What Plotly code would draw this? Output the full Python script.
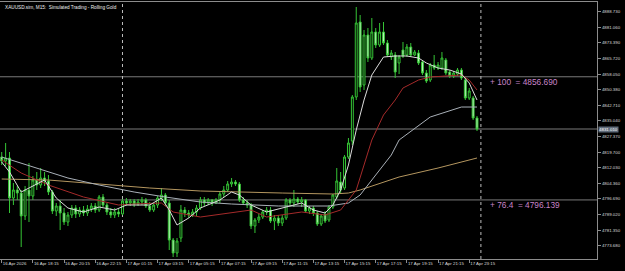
import plotly.graph_objects as go

# ---------------- data ----------------
bar_index = list(range(123))

opens = [4817.24,4815.28,4816.75,4797.08,4801.02,4799.54,4788.24,4801.02,4798.07,4805.93,
         4803.48,4806.92,4805.44,4800.04,4790.69,4793.15,4789.71,4785.29,4788.73,4792.17,
         4789.22,4791.19,4789.71,4791.68,4793.15,4791.19,4797.58,4793.64,4790.20,4788.73,
         4790.20,4789.22,4795.61,4794.63,4795.61,4794.14,4795.12,4796.10,4793.15,4791.19,
         4793.64,4797.08,4798.56,4794.63,4776.44,4770.05,4777.42,4791.19,4789.71,4788.73,
         4790.20,4792.17,4796.10,4794.63,4796.10,4794.63,4796.10,4799.05,4801.02,4803.97,
         4804.95,4803.97,4796.10,4794.63,4793.64,4783.32,4786.27,4787.74,4790.20,4791.19,
         4785.78,4787.25,4784.79,4787.25,4796.10,4794.63,4796.59,4795.12,4796.10,4790.69,
         4792.17,4789.71,4784.30,4789.22,4786.27,4792.66,4797.58,4804.95,4802.00,4817.24,
         4825.11,4846.74,4883.61,4852.64,4877.22,4865.91,4878.70,4872.31,4878.70,4873.29,
         4866.41,4867.39,4863.46,4869.85,4867.39,4871.32,4867.39,4868.37,4863.95,4858.54,
         4855.10,4862.47,4861.00,4861.00,4864.93,4859.03,4857.07,4858.05,4860.02,4855.10,
         4846.25,4846.25,4836.42]

highs = [4819.70,4824.13,4819.70,4804.46,4802.98,4801.02,4802.98,4814.29,4807.90,4809.87,
         4811.83,4809.87,4808.39,4801.02,4794.63,4796.10,4792.17,4790.20,4793.64,4793.64,
         4792.66,4793.15,4793.64,4794.63,4794.63,4798.56,4799.05,4794.63,4792.17,4792.17,
         4791.68,4796.59,4797.08,4796.59,4796.59,4796.59,4797.58,4797.08,4795.12,4794.63,
         4798.07,4802.00,4799.54,4796.10,4777.42,4777.42,4793.64,4792.66,4791.19,4791.68,
         4793.64,4797.58,4797.58,4797.08,4796.59,4797.08,4800.53,4802.98,4805.44,4806.92,
         4805.93,4804.95,4797.58,4796.10,4794.63,4787.25,4789.22,4791.19,4792.66,4792.66,
         4788.73,4788.73,4788.73,4797.08,4797.08,4801.02,4797.58,4797.58,4796.59,4793.15,
         4793.15,4790.69,4789.22,4790.69,4793.64,4799.05,4811.83,4809.87,4818.23,4826.58,
         4847.72,4890.99,4887.06,4879.68,4880.66,4885.58,4880.66,4883.12,4883.61,4874.76,
         4869.85,4868.86,4867.39,4873.78,4872.80,4873.29,4869.85,4869.85,4864.93,4860.02,
         4863.46,4867.39,4863.95,4868.86,4865.91,4860.02,4859.52,4861.00,4861.00,4856.57,
         4851.17,4847.23,4837.40]

lows = [4813.31,4812.82,4789.71,4793.64,4796.10,4772.99,4786.27,4785.29,4796.10,4801.02,
        4802.00,4802.98,4798.56,4789.22,4788.24,4781.35,4783.81,4783.32,4787.25,4787.25,
        4787.74,4788.24,4788.24,4790.20,4789.71,4790.20,4792.66,4788.73,4787.25,4787.25,
        4787.74,4788.73,4793.15,4793.15,4792.66,4793.15,4793.64,4792.17,4790.20,4790.20,
        4792.17,4795.61,4793.15,4771.52,4768.08,4768.08,4775.45,4787.74,4787.25,4787.74,
        4788.24,4791.19,4793.15,4793.64,4793.15,4794.14,4794.63,4797.58,4800.04,4802.49,
        4802.98,4795.12,4793.64,4792.17,4781.84,4779.88,4784.79,4786.76,4788.73,4784.79,
        4781.35,4783.32,4783.32,4786.27,4793.15,4792.66,4794.14,4792.66,4789.71,4789.22,
        4788.24,4783.32,4783.32,4784.79,4785.29,4791.68,4796.59,4799.54,4801.02,4816.26,
        4823.14,4845.27,4849.20,4850.18,4863.95,4864.93,4870.83,4871.32,4872.31,4866.41,
        4864.93,4856.08,4858.05,4865.91,4866.41,4866.41,4866.90,4862.47,4857.56,4853.62,
        4854.12,4860.02,4860.02,4860.02,4857.56,4856.08,4856.08,4857.07,4855.10,4845.27,
        4845.27,4835.43,4830.03]

closes = [4815.28,4816.75,4797.08,4801.02,4799.54,4788.24,4801.02,4798.07,4805.93,4803.48,
          4806.92,4805.44,4800.04,4790.69,4793.15,4789.71,4785.29,4788.73,4792.17,4789.22,
          4791.19,4789.71,4791.68,4793.15,4791.19,4797.58,4793.64,4790.20,4788.73,4790.20,
          4789.22,4795.61,4794.63,4795.61,4794.14,4795.12,4796.10,4793.15,4791.19,4793.64,
          4797.08,4798.56,4794.63,4776.44,4770.05,4775.94,4791.19,4789.71,4788.73,4790.20,
          4792.17,4796.10,4794.63,4796.10,4794.63,4796.10,4799.05,4801.02,4803.97,4804.95,
          4803.97,4796.10,4794.63,4793.64,4783.32,4786.27,4787.74,4790.20,4791.19,4785.78,
          4787.25,4784.79,4787.25,4796.10,4794.63,4796.59,4795.12,4796.10,4790.69,4792.17,
          4789.71,4784.30,4788.24,4785.78,4792.66,4798.56,4805.44,4801.02,4817.24,4824.13,
          4846.74,4883.12,4851.66,4877.22,4865.91,4878.70,4872.31,4878.70,4873.29,4867.39,
          4868.37,4859.03,4866.41,4866.90,4871.32,4867.39,4868.86,4863.46,4858.54,4854.61,
          4862.47,4861.00,4862.47,4865.91,4858.54,4857.07,4858.54,4860.02,4856.08,4846.25,
          4849.69,4836.42,4831.01]

# moving averages (bar index, value)
ma_fast_idx = [0,2,5,7,11,14,17,21,25,29,32,38,41,43,45,48,51,56,59,61,64,68,72,77,80,83,85,87,89,91,
               93,95,98,101,104,107,109,112,115,118,120,122]
ma_fast_val = [4814.78,4809.87,4800.04,4802.00,4805.93,4797.08,4792.17,4790.20,4792.66,4791.19,
               4793.64,4793.64,4797.08,4791.19,4783.81,4787.25,4792.17,4796.10,4800.04,4798.56,
               4793.64,4790.20,4792.17,4794.63,4791.19,4789.71,4793.64,4801.02,4813.31,4830.52,
               4845.27,4857.56,4866.41,4866.90,4866.90,4865.91,4863.46,4861.00,4860.02,4858.05,
               4853.62,4845.27]

ma_red_idx = [0,5,12,21,30,34,41,44,51,59,64,68,77,83,87,89,91,93,95,98,101,103,107,110,118,120,122]
ma_red_val = [4815.77,4809.38,4803.48,4797.58,4793.64,4794.14,4794.63,4790.20,4787.74,4789.71,
              4791.19,4787.74,4790.20,4788.73,4791.19,4796.10,4801.02,4813.31,4825.60,4837.89,
              4845.27,4851.17,4855.10,4856.57,4857.56,4855.10,4850.18]

ma_gray_idx = [0,8,17,25,34,42,51,59,71,84,89,92,96,100,102,110,118,122]
ma_gray_val = [4817.24,4812.33,4806.92,4803.48,4800.04,4797.58,4795.12,4794.14,4793.15,4793.15,
               4794.63,4798.56,4808.39,4818.23,4825.60,4836.91,4841.82,4841.82]

ma_tan_idx = [0,12,25,38,51,59,72,85,89,92,102,112,122]
ma_tan_val = [4806.43,4805.93,4803.97,4802.00,4800.53,4800.04,4799.54,4799.05,4799.54,4801.02,
              4807.41,4811.83,4816.75]

time_tick_index = [0,8,16,24,32,40,48,56,64,72,80,88,96,104,112,120]
time_tick_text = ["16 Apr 2026","16 Apr 18:15","16 Apr 20:15","16 Apr 22:15","17 Apr 01:15",
                  "17 Apr 03:15","17 Apr 05:15","17 Apr 07:15","17 Apr 09:15","17 Apr 11:15",
                  "17 Apr 13:15","17 Apr 15:15","17 Apr 17:15","17 Apr 19:15","17 Apr 21:15",
                  "17 Apr 23:15"]

price_ticks = [4888.73,4881.06,4873.39,4865.72,4858.05,4850.38,4842.71,4835.04,4827.37,
               4819.70,4812.03,4804.36,4796.69,4789.02,4781.35,4773.68]

day_separators = [31, 123]
fib_levels = [4856.690, 4796.139]
fib_names = ["+ 100", "+ 76.4"]

title_text = "XAUUSD.sim, M15:  Simulated Trading - Rolling Gold"

# ---------------- figure ----------------
SMALL = dict(family="Liberation Sans, Arial, sans-serif", size=4.4, color="#d8d8d8")
AXIS_COL = "#8c8c8c"

fig = go.Figure()

for idx, val, col in [(ma_tan_idx, ma_tan_val, "#b4965f"),
                      (ma_gray_idx, ma_gray_val, "#a9b0b8"),
                      (ma_red_idx, ma_red_val, "#a52a2a"),
                      (ma_fast_idx, ma_fast_val, "#dcdcdc")]:
    fig.add_trace(go.Scatter(x=idx, y=val, mode="lines",
                             line=dict(color=col, width=1), hoverinfo="skip"))

fig.add_trace(go.Candlestick(
    x=bar_index, open=opens, high=highs, low=lows, close=closes,
    increasing=dict(line=dict(color="#35c435", width=1), fillcolor="#000000"),
    decreasing=dict(line=dict(color="#35c435", width=1), fillcolor="#c4f2c4"),
    whiskerwidth=0,
))

shapes = []
for lv in fib_levels:
    shapes.append(dict(type="line", xref="paper", x0=0, x1=1, yref="y", y0=lv, y1=lv,
                       line=dict(color="#7a7a7a", width=1), layer="below"))
shapes.append(dict(type="line", xref="paper", x0=0, x1=1, yref="y",
                   y0=closes[-1], y1=closes[-1],
                   line=dict(color="#7a7a7a", width=1), layer="below"))
for s in day_separators:
    shapes.append(dict(type="line", xref="x", x0=s, x1=s, yref="paper", y0=0, y1=1,
                       line=dict(color="#bdbdbd", width=1, dash="dot"), layer="below"))

annotations = [
    dict(text=title_text, xref="paper", yref="paper", x=0, y=1, xanchor="left",
         yanchor="top", xshift=3, yshift=-1, showarrow=False,
         font=dict(family=SMALL["family"], size=4.7, color="#f0f0f0")),
    dict(text=f"{closes[-1]:.3f}", xref="paper", yref="y", x=1, y=closes[-1],
         xanchor="left", yanchor="middle", showarrow=False, bgcolor="#5f6b7a",
         borderpad=0, xshift=1,
         font=dict(family=SMALL["family"], size=4.4, color="#ffffff")),
]
for lv, nm in zip(fib_levels, fib_names):
    annotations.append(dict(text=f"{nm}  = {lv:.3f}", xref="x", yref="y", x=124.9, y=lv,
                            xanchor="left", yanchor="middle", yshift=-5, showarrow=False,
                            font=dict(family=SMALL["family"], size=8.3, color="#c985c9")))

fig.update_layout(
    width=625, height=271,
    margin=dict(l=0, r=28, t=2, b=12),
    paper_bgcolor="#000000", plot_bgcolor="#000000",
    showlegend=False,
    shapes=shapes, annotations=annotations,
    xaxis=dict(range=[-0.44, 152.8], tickmode="array", tickvals=time_tick_index,
               ticktext=time_tick_text, ticks="outside", ticklen=3, tickcolor=AXIS_COL,
               showline=True, linecolor=AXIS_COL, linewidth=1, mirror=True,
               showgrid=False, zeroline=False, tickfont=SMALL, tickangle=0,
               ticklabelposition="outside right", rangeslider=dict(visible=False),
               fixedrange=True),
    yaxis=dict(side="right", range=[4767.10, 4893.45], tickmode="array",
               tickvals=price_ticks, ticktext=[f"{v:.3f}" for v in price_ticks],
               ticks="outside", ticklen=3, tickcolor=AXIS_COL,
               showline=True, linecolor=AXIS_COL, linewidth=1,
               showgrid=False, zeroline=False, tickfont=SMALL, fixedrange=True),
)

fig.write_html("out.html")
